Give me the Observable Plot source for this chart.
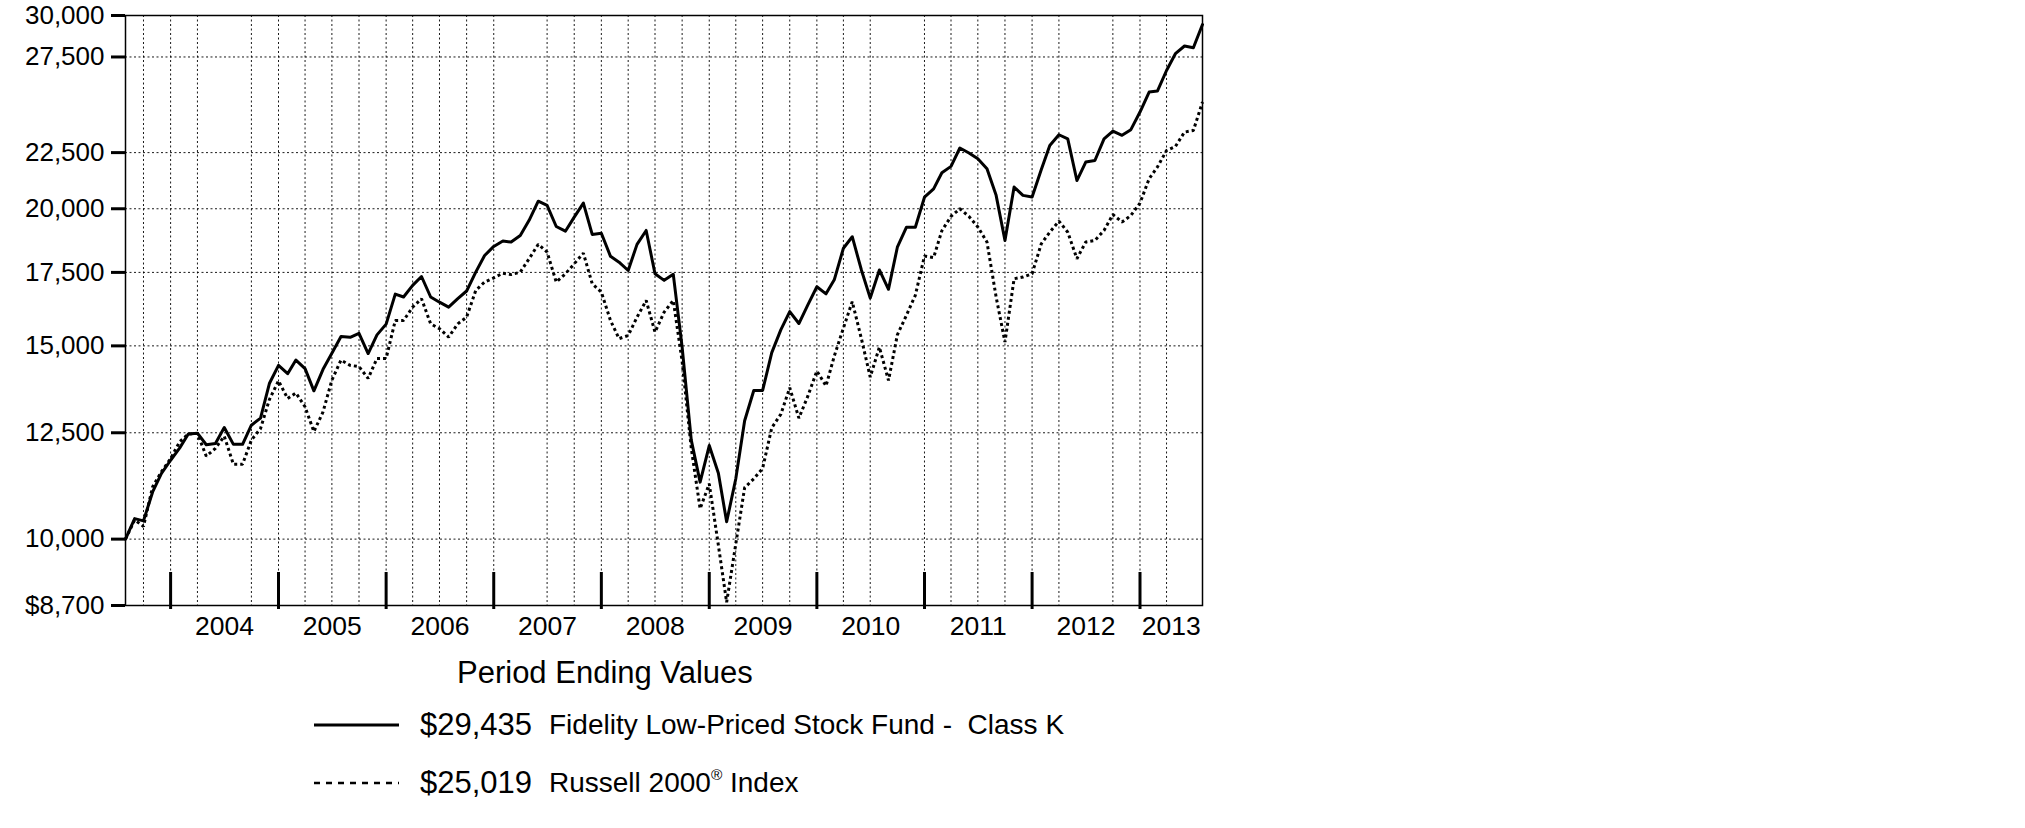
<!DOCTYPE html>
<html>
<head>
<meta charset="utf-8">
<script src="https://cdn.jsdelivr.net/npm/d3@7"></script>
<script src="https://cdn.jsdelivr.net/npm/@observablehq/plot@0.6"></script>
<style>
  html, body { margin: 0; padding: 0; background: #fff; }
  #wrap { position: relative; width: 2025px; height: 828px; overflow: hidden; font-family: 'Liberation Sans', Arial, Helvetica, sans-serif; color: #000; }
  #chart { position: absolute; left: 0; top: 0; }
  #chart svg { font-family: 'Liberation Sans', Arial, Helvetica, sans-serif; }
  .lg { position: absolute; white-space: pre; line-height: 40px; height: 40px; }
  .val { font-size: 31px; }
  .desc { font-size: 28px; }
  sup { font-size: 0.55em; vertical-align: 0.75em; line-height: 0; }
</style>
</head>
<body>
<div id="wrap">
  <div id="chart"></div>
  <div class="lg" style="left:457px; top:653px; font-size:31px;" id="title"></div>
  <svg class="lg" style="left:314px; top:704px;" width="90" height="40"><line x1="0" x2="85" y1="21" y2="21" stroke="#000" stroke-width="3"/></svg>
  <div class="lg val" style="left:420px; top:705px;" id="v1"></div>
  <div class="lg desc" style="left:549px; top:705px;" id="d1"></div>
  <svg class="lg" style="left:314px; top:762px;" width="90" height="40"><line x1="0" x2="85" y1="21" y2="21" stroke="#000" stroke-width="2.5" stroke-dasharray="6,6"/></svg>
  <div class="lg val" style="left:420px; top:763px;" id="v2"></div>
  <div class="lg desc" style="left:549px; top:763px;" id="d2"></div>
</div>
<script>
// ---- data ----
const fundValues = [
  10000, 10440, 10390, 11040, 11480, 11800, 12110, 12470, 12490, 12190,
  12220, 12640, 12200, 12200, 12700, 12890, 13860, 14400, 14150, 14560,
  14300, 13650, 14280, 14770, 15300, 15270, 15400, 14760, 15350, 15700,
  16720, 16620, 17030, 17350, 16620, 16440, 16270, 16560, 16830, 17510,
  18130, 18480, 18690, 18650, 18910, 19520, 20320, 20140, 19270, 19080,
  19650, 20240, 18950, 19000, 18100, 17880, 17570, 18560, 19110, 17450,
  17210, 17430, 14960, 12310, 11270, 12170, 11480, 10370, 11350, 12820,
  13660, 13660, 14790, 15520, 16120, 15720, 16340, 16980, 16730, 17230,
  18410, 18860, 17590, 16580, 17590, 16890, 18450, 19240, 19240, 20490,
  20850, 21570, 21860, 22720, 22480, 22210, 21750, 20570, 18710, 20930,
  20570, 20500, 21710, 22840, 23360, 23160, 21220, 22060, 22130, 23160,
  23540, 23330, 23610, 24500, 25550, 25600, 26730, 27690, 28140, 28040,
  29435
];
const russellValues = [
  10000, 10410, 10270, 11160, 11520, 11840, 12270, 12470, 12480, 11900,
  12100, 12410, 11700, 11700, 12310, 12610, 13400, 13940, 13430, 13590,
  13200, 12530, 13060, 13960, 14560, 14400, 14360, 14010, 14610, 14610,
  15820, 15820, 16270, 16560, 15710, 15550, 15280, 15710, 15930, 16850,
  17150, 17300, 17470, 17420, 17510, 18010, 18560, 18260, 17150, 17450,
  17820, 18220, 17090, 16790, 15820, 15230, 15330, 15930, 16500, 15440,
  16100, 16500, 14520, 12100, 10660, 11230, 9870, 8760, 9900, 11140,
  11350, 11600, 12630, 13000, 13740, 12890, 13490, 14230, 13790, 14680,
  15570, 16460, 15230, 14050, 14960, 13950, 15350, 16000, 16680, 18110,
  18050, 19100, 19680, 20000, 19680, 19250, 18650, 16620, 15120, 17270,
  17330, 17450, 18580, 19040, 19490, 19040, 18010, 18650, 18710, 19110,
  19760, 19450, 19720, 20240, 21300, 21830, 22600, 22790, 23490, 23570,
  25019
];
const firstMonthEnd = "2003-07-31";
const yTickValues = [8700, 10000, 12500, 15000, 17500, 20000, 22500, 27500, 30000];
const yGridValues = [10000, 12500, 15000, 17500, 20000, 22500, 27500];
const yearLabels = [2004, 2005, 2006, 2007, 2008, 2009, 2010, 2011, 2012, 2013];
const majorTickDates = ["2003-12-31", "2004-12-31", "2005-12-31", "2006-12-31", "2007-12-31",
  "2008-12-31", "2009-12-31", "2010-12-31", "2011-12-31", "2012-12-31"];
const gridDates = [
  "2003-09-30", "2003-12-31", "2004-03-31", "2004-09-30", "2004-12-31",
  "2005-03-31", "2005-06-30", "2005-09-30", "2005-12-31", "2006-03-31",
  "2006-06-30", "2006-09-30", "2006-12-31", "2007-06-30", "2007-09-30",
  "2007-12-31", "2008-03-31", "2008-06-30", "2008-09-30", "2008-12-31",
  "2009-03-31", "2009-06-30", "2009-09-30", "2009-12-31", "2010-03-31",
  "2010-06-30", "2010-12-31", "2011-03-31", "2011-06-30", "2011-09-30",
  "2011-12-31", "2012-03-31", "2012-09-30", "2012-12-31", "2013-03-31"
];
const seriesNames = ["Fidelity Low-Priced Stock Fund -  Class K", "Russell 2000"];
const endingValues = ["$29,435", "$25,019"];
const legendTitle = "Period Ending Values";

// ---- build tables ----
const parse = d3.utcParse("%Y-%m-%d");
const start = d3.utcDay.offset(parse(firstMonthEnd), 1);
const monthEnd = i => d3.utcDay.offset(d3.utcMonth.offset(start, i), -1);
const fundData = fundValues.map((v, i) => ({date: monthEnd(i), value: v}));
const russellData = russellValues.map((v, i) => ({date: monthEnd(i), value: v}));
const x0 = fundData[0].date, x1 = fundData[fundData.length - 1].date;
const yearLabelData = yearLabels.map(y => {
  const s = Math.max(+new Date(Date.UTC(y - 1, 11, 31)), +x0);
  const e = Math.min(+new Date(Date.UTC(y, 11, 31)), +x1);
  return {mid: new Date((s + e) / 2), label: String(y)};
});
const fmt = d3.format(",");
const yLabel = d => d === 8700 ? "$" + fmt(d) : fmt(d);

const W = 1215, ML = 125, MR = 13;
const frameW = W - ML - MR;

const chart = Plot.plot({
  width: W,
  height: 650,
  marginLeft: ML,
  marginTop: 15,
  marginRight: MR,
  marginBottom: 45,
  style: {background: "#fff", color: "#000", overflow: "visible"},
  x: {type: "utc", domain: [x0, x1], axis: null},
  y: {type: "log", domain: [8700, 30000], axis: null},
  marks: [
    Plot.gridX(gridDates.map(parse), {stroke: "#000", strokeOpacity: 0.9, strokeWidth: 1, strokeDasharray: "2,2.5"}),
    Plot.gridY(yGridValues, {stroke: "#000", strokeOpacity: 0.9, strokeWidth: 1, strokeDasharray: "2,2.5"}),
    Plot.tickY(yTickValues, {y: d => d, stroke: "#000", strokeWidth: 3, insetLeft: -14, insetRight: frameW}),
    Plot.text(yTickValues, {y: d => d, text: yLabel, frameAnchor: "left", dx: -21, textAnchor: "end", lineAnchor: "middle", fontSize: 26, fill: "#000"}),
    Plot.frame({stroke: "#000", strokeWidth: 1.5}),
    Plot.ruleX(majorTickDates.map(parse), {stroke: "#000", strokeWidth: 3, insetTop: 557, insetBottom: -4}),
    Plot.text(yearLabelData, {x: "mid", text: "label", frameAnchor: "bottom", dy: 21, lineAnchor: "middle", fontSize: 26.5, fill: "#000"}),
    Plot.line(russellData, {x: "date", y: "value", stroke: "#000", strokeWidth: 3, strokeDasharray: "3,3", strokeLinecap: "butt", strokeLinejoin: "miter"}),
    Plot.line(fundData, {x: "date", y: "value", stroke: "#000", strokeWidth: 3})
  ]
});
document.getElementById("chart").appendChild(chart);

document.getElementById("title").textContent = legendTitle;
document.getElementById("v1").textContent = endingValues[0];
document.getElementById("v2").textContent = endingValues[1];
document.getElementById("d1").textContent = seriesNames[0];
const d2 = document.getElementById("d2");
d2.appendChild(document.createTextNode(seriesNames[1]));
const sup = document.createElement("sup"); sup.textContent = "®";
d2.appendChild(sup);
d2.appendChild(document.createTextNode(" Index"));
</script>
</body>
</html>
